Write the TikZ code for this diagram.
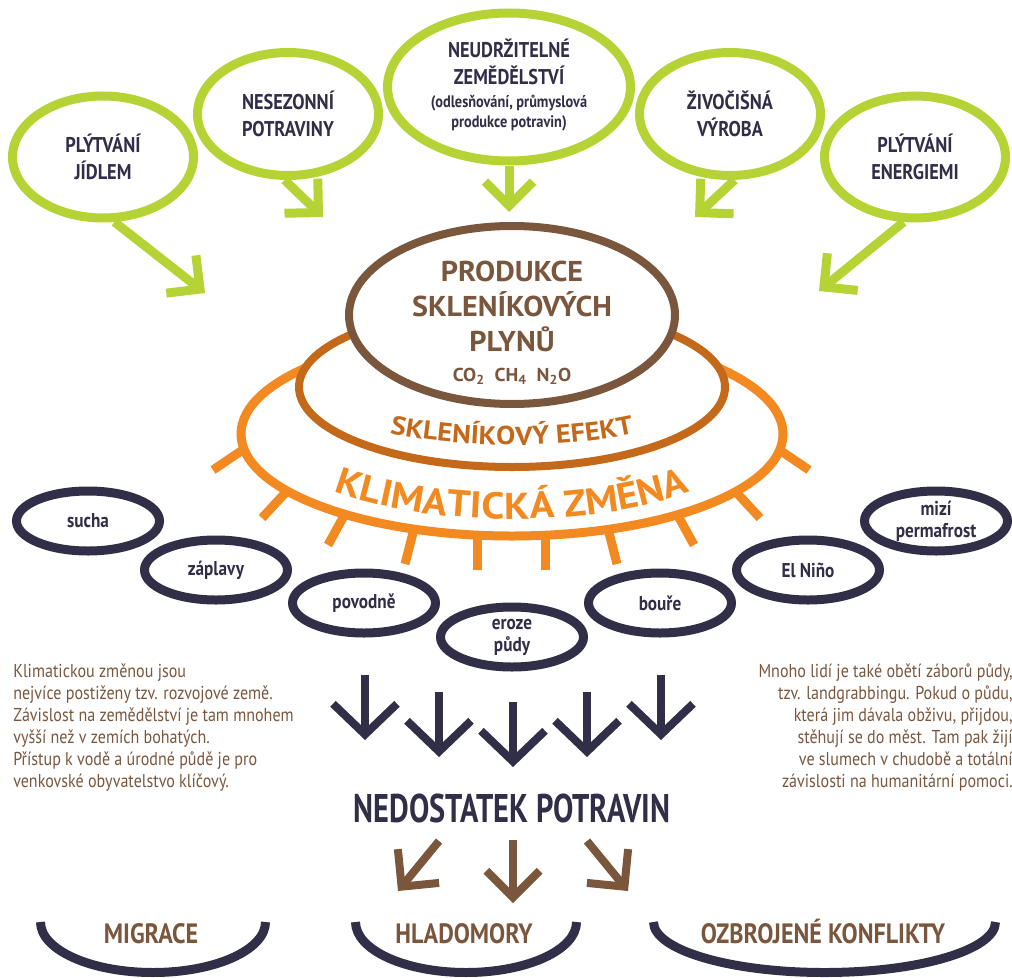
\documentclass[tikz,border=0pt]{standalone}
\usepackage{fontspec}
\setmainfont{PT Sans}[FakeStretch=0.86]
\newfontfamily\headlinefont{PT Sans}[FakeStretch=0.76]
\newfontfamily\gasfont{PT Sans}[FakeStretch=1.05]
\newfontfamily\ringfont{PT Sans}[FakeStretch=1.1]
\usetikzlibrary{shapes.geometric,arrows.meta,decorations.text}
\definecolor{causeColor}{RGB}{181, 211, 52}
\definecolor{gasColor}{RGB}{122, 86, 60}
\definecolor{effectColor}{RGB}{196, 104, 26}
\definecolor{climateColor}{RGB}{243, 138, 33}
\definecolor{impactColor}{RGB}{49, 46, 72}

\begin{document}
\begin{tikzpicture}[
		x=0.75pt, y=-0.75pt,
		% Define styles for nodes
		cause/.style={
				draw=causeColor,
				ellipse,
				line width=6.75pt,
				fill=white,
				inner sep=0pt,
				minimum width=135.75pt,
				minimum height=91.5pt,
				align=center,
				text=impactColor,
				font=\fontsize{16}{20.25}\selectfont\bfseries
			},
		causetext/.style={
				align=center,
				text=impactColor,
				inner sep=0pt,
				font=\fontsize{16}{20.25}\selectfont\bfseries
			},
		ring/.style={
				draw=#1,
				ellipse,
				line width=6pt,
				fill=white,
				inner sep=0pt
			},
		ray/.style={
				draw=climateColor,
				line width=6.75pt
			},
		impact/.style={
				draw=impactColor,
				ellipse,
				line width=6.75pt,
				fill=white,
				inner sep=0pt,
				minimum width=107.25pt,
				minimum height=45pt,
				align=center,
				text=impactColor,
				font=\fontsize{15}{16.5}\selectfont\bfseries
			},
		note/.style={
				text=gasColor,
				inner sep=0pt,
				font=\fontsize{14}{16.5}\selectfont
			},
		outcome/.style={
				text=gasColor,
				inner sep=0pt,
				anchor=base,
				font=\fontsize{21}{24}\selectfont\bfseries
			},
		bowl/.style={
				draw=impactColor,
				line width=6.75pt
			},
		causearrow/.style={
				-{Straight Barb[length=18pt,width=36pt]},
				line width=6.75pt,
				draw=causeColor
			},
		impactarrow/.style={
				-{Straight Barb[length=23pt,width=48pt]},
				line width=6pt,
				draw=impactColor
			},
		outcomearrow/.style={
				-{Straight Barb[length=20pt,width=40pt]},
				line width=6pt,
				draw=gasColor
			}
	]

	\useasboundingbox (0,0) rectangle (1012,977);

	% Causes (green ellipses)
	\node[cause] (jidlo) at (103,157) {PLÝTVÁNÍ\\JÍDLEM};
	\node[cause, minimum height=92.25pt] (sezona) at (288,114) {NESEZONNÍ\\POTRAVINY};
	\node[cause, minimum width=182.25pt, minimum height=111pt] (zemedelstvi) at (509,87) {};
	\node[causetext] (zemedelstvitext) at (509,85) {NEUDRŽITELNÉ\\ZEMĚDĚLSTVÍ\\[-3pt]
		{\fontsize{12.5}{15}\selectfont(odlesňování, průmyslová}\\[-5pt]
		{\fontsize{12.5}{15}\selectfont produkce potravin)}};
	\node[cause, minimum height=92.25pt] (vyroba) at (730,114) {ŽIVOČIŠNÁ\\VÝROBA};
	\node[cause] (energie) at (915,157) {PLÝTVÁNÍ\\ENERGIEMI};

	% Arrow tips towards the centre
	\coordinate (jidlotip) at (205,293);
	\coordinate (sezonatip) at (323,217);
	\coordinate (zemedelstvitip) at (509,212);
	\coordinate (vyrobatip) at (695,217);
	\coordinate (energietip) at (819,291);

	\draw[causearrow] (jidlo.-80) -- (jidlotip);
	\draw[causearrow] (sezona.-93) -- (sezonatip);
	\draw[causearrow] (zemedelstvi.south) -- (zemedelstvitip);
	\draw[causearrow] (vyroba.-86) -- (vyrobatip);
	\draw[causearrow] (energie.-100) -- (energietip);

	% Rays of the climate change ring
	\foreach \rx/\ry/\tx/\ty in {244/449/213/470, 287/491/262/518, 345/514/328/545, 414/529/405/564, 477/536/477/570,
		545/536/545/570, 608/529/617/564, 677/514/694/545, 735/491/760/518, 778/449/809/470} {
		\draw[ray] (\rx,\ry) -- (\tx,\ty);
	}

	% Nested rings
	\node[ring=climateColor, line width=6.75pt, minimum width=406.5pt, minimum height=153pt] (zmena) at (512,434) {};
	\node[ring=effectColor, minimum width=319.5pt, minimum height=120pt] (efekt) at (512,387) {};
	\node[ring=gasColor, minimum width=244.5pt, minimum height=133.5pt] (plyny) at (512,315) {};
	\node[text=gasColor, align=center, inner sep=0pt, font=\gasfont\fontsize{21.5}{26.25}\selectfont\bfseries] (plynytext) at (512,323)
		{PRODUKCE\\SKLENÍKOVÝCH\\PLYNŮ\\[-4pt]{\fontsize{14}{15}\selectfont CO\textsubscript{2}~~CH\textsubscript{4}~~N\textsubscript{2}O}};

	% Curved labels
	\path[decorate, decoration={text along path, text align=center, text color=effectColor,
		text={|\ringfont\fontsize{19.5}{20}\selectfont\bfseries|SKLENÍKOVÝ EFEKT}}]
		(512,387) ++(160:202 and 58) arc[start angle=160, end angle=20, x radius=202, y radius=58];
	\path[decorate, decoration={text along path, text align=center, text color=climateColor,
		text={|\ringfont\fontsize{28}{30}\selectfont\bfseries|KLIMATICKÁ ZMĚNA}}]
		(512,434) ++(165:242 and 85) arc[start angle=165, end angle=15, x radius=242, y radius=85];

	% Impacts (dark ellipses)
	\node[impact] (sucha) at (88,521) {sucha};
	\node[impact] (zaplavy) at (216,570) {záplavy};
	\node[impact] (povodne) at (364,603) {povodně};
	\node[impact] (eroze) at (512,637) {eroze\\půdy};
	\node[impact] (boure) at (660,603) {bouře};
	\node[impact] (nino) at (808,570) {El Niño};
	\node[impact] (permafrost) at (936,521) {mizí\\permafrost};

	% Side notes
	\node[note, anchor=north west, align=left] (leftnote) at (13,664) {Klimatickou změnou jsou\\
		nejvíce postiženy tzv. rozvojové země.\\
		Závislost na zemědělství je tam mnohem\\
		vyšší než v zemích bohatých.\\
		Přístup k vodě a úrodné půdě je pro\\
		venkovské obyvatelstvo klíčový.};
	\node[note, anchor=north east, align=right] (rightnote) at (1013,664) {Mnoho lidí je také obětí záborů půdy,\\
		tzv. landgrabbingu. Pokud o půdu,\\
		která jim dávala obživu, přijdou,\\
		stěhují se do měst. Tam pak žijí\\
		ve slumech v chudobě a totální\\
		závislosti na humanitární pomoci.};

	% Arrows down to the food shortage
	\foreach \i/\xa/\ya/\yb in {1/365/675/740, 2/439/692/757, 3/513/702/767, 4/587/692/757, 5/661/675/740} {
		\coordinate (shortage\i) at (\xa,\ya);
		\coordinate (shortagetip\i) at (\xa,\yb);
		\draw[impactarrow] (shortage\i) -- (shortagetip\i);
	}

	\node[text=impactColor, inner sep=0pt, anchor=base, font=\headlinefont\fontsize{30}{32}\selectfont\bfseries] (nedostatek) at (512,822) {NEDOSTATEK POTRAVIN};

	% Outcomes
	\coordinate (outleft) at (439,841);
	\coordinate (outlefttip) at (398,891);
	\coordinate (outmid) at (513,840);
	\coordinate (outmidtip) at (513,903);
	\coordinate (outright) at (587,841);
	\coordinate (outrighttip) at (628,891);
	\draw[outcomearrow] (outleft) -- (outlefttip);
	\draw[outcomearrow] (outmid) -- (outmidtip);
	\draw[outcomearrow] (outright) -- (outrighttip);

	\node[outcome] (migrace) at (151,943) {MIGRACE};
	\node[outcome] (hladomory) at (464,943) {HLADOMORY};
	\node[outcome] (konflikty) at (823,943) {OZBROJENÉ KONFLIKTY};

	\draw[bowl] (40.5,922) arc[start angle=180, end angle=0, x radius=112.5, y radius=50.5];
	\draw[bowl] (355.5,922) arc[start angle=180, end angle=0, x radius=110.5, y radius=50.5];
	\draw[bowl] (653.5,922) arc[start angle=180, end angle=0, x radius=171, y radius=50.5];

\end{tikzpicture}
\end{document}
